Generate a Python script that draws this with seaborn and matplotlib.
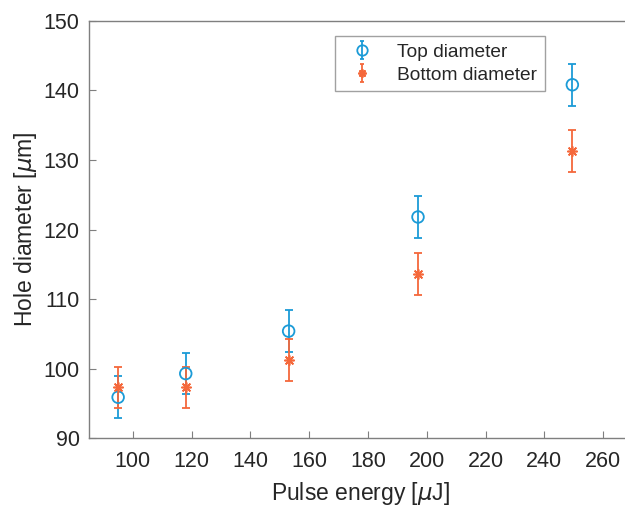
import numpy as np
import pandas as pd
import matplotlib
matplotlib.use("Agg")
import matplotlib.pyplot as plt
import seaborn as sns
from matplotlib.lines import Line2D
from matplotlib.path import Path
from matplotlib.legend_handler import HandlerTuple

# data
pulse_energy = [95, 118, 153, 197, 249.5]
top_diameter = [95.9, 99.3, 105.4, 121.8, 140.8]
top_err = [3.0, 3.0, 3.0, 3.0, 3.0]
bottom_diameter = [97.3, 97.3, 101.3, 113.6, 131.3]
bottom_err = [3.0, 3.0, 3.0, 3.0, 3.0]
series_labels = ["Top diameter", "Bottom diameter"]
x_ticks = [100, 120, 140, 160, 180, 200, 220, 240, 260]
y_ticks = [90, 100, 110, 120, 130, 140, 150]

top_df = pd.DataFrame({"energy": pulse_energy, "diameter": top_diameter, "err": top_err})
bot_df = pd.DataFrame({"energy": pulse_energy, "diameter": bottom_diameter, "err": bottom_err})

sns.set_style("white")
plt.rcParams["font.family"] = ["Liberation Sans", "DejaVu Sans"]

blue = "#1b9bd7"
orange = "#f5683b"
star = (8, 2, 0)

fig = plt.figure(figsize=(6.25, 5.07), dpi=100)
ax = fig.add_axes([0.1429, 0.1355, 0.8693, 0.8236])

for sub, col in [(top_df, blue), (bot_df, orange)]:
    ax.errorbar(sub["energy"], sub["diameter"], yerr=sub["err"],
                fmt="none", ecolor=col, elinewidth=1.3,
                capsize=3.0, capthick=1.3, zorder=2)

sns.scatterplot(data=top_df, x="energy", y="diameter", marker="o", s=70,
                facecolor="none", edgecolor=blue, linewidth=1.3, ax=ax,
                legend=False, zorder=3)
sns.scatterplot(data=bot_df, x="energy", y="diameter", marker=star, s=45,
                color=orange, linewidth=1.2, ax=ax, legend=False, zorder=3)

# legend handles: error-bar glyph + symbol overlaid
ebar_path = Path([(-0.22, 1), (0.22, 1), (0, 1), (0, -1), (-0.22, -1), (0.22, -1)],
                 [Path.MOVETO, Path.LINETO, Path.MOVETO, Path.LINETO, Path.MOVETO, Path.LINETO])

def handle(col, mk, ms, mfc):
    bar = Line2D([], [], ls="none", marker=ebar_path, ms=13, mew=1.3,
                 color=col, mfc="none", mec=col)
    sym = Line2D([], [], ls="none", marker=mk, ms=ms, mew=1.3, color=col,
                 mfc=mfc, mec=col)
    return (bar, sym)

h1 = handle(blue, "o", 7.5, "none")
h2 = handle(orange, star, 6, orange)

leg = ax.legend(handles=[h1, h2], labels=series_labels, loc="upper left",
                bbox_to_anchor=(335 / 625, 1 - 36 / 507),
                bbox_transform=fig.transFigure, borderaxespad=0,
                fontsize=13.8, frameon=True, fancybox=False,
                handlelength=2.1, handletextpad=0.77, borderpad=0.38,
                labelspacing=0.3,
                handler_map={tuple: HandlerTuple(ndivide=1, pad=0)})
leg.get_frame().set_edgecolor("#8a8a8a")
leg.get_frame().set_linewidth(1.0)

ax.set_xlim(85.2, 270)
ax.set_ylim(90, 150)
ax.set_xticks(x_ticks)
ax.set_yticks(y_ticks)
ax.tick_params(direction="in", length=5, width=0.8, color="#7f7f7f",
               labelsize=15.5, labelcolor="#262626", bottom=True, left=True)
ax.tick_params(axis="x", pad=9)
ax.tick_params(axis="y", pad=7)
for s in ax.spines.values():
    s.set_color("#7f7f7f")
    s.set_linewidth(1.0)

ax.set_xlabel(r"Pulse energy [$\mu$J]", fontsize=16.5, color="#262626", labelpad=6)
ax.set_ylabel(r"Hole diameter [$\mu$m]", fontsize=16.5, color="#262626", labelpad=3)

fig.savefig("out.png", dpi=100)
